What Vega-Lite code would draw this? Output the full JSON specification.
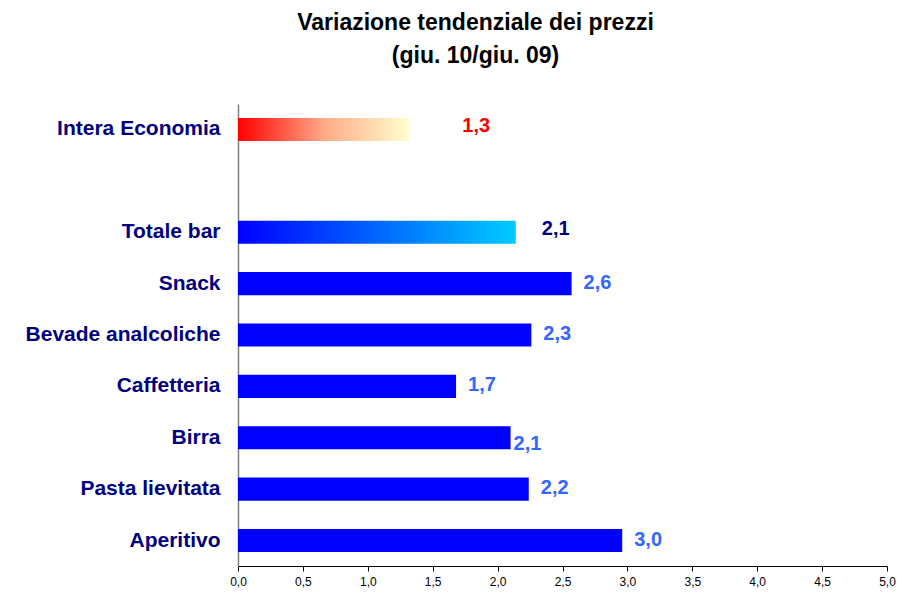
{
  "$schema": "https://vega.github.io/schema/vega-lite/v6.json",
  "width": 649,
  "height": 462,
  "autosize": "none",
  "padding": {"left": 238, "top": 104, "right": 17, "bottom": 29},
  "background": "white",
  "config": {"view": {"stroke": null}, "font": "Liberation Sans"},
  "title": {
    "text": ["Variazione tendenziale dei prezzi", "(giu. 10/giu. 09)"],
    "fontSize": 23,
    "fontWeight": "bold",
    "font": "Liberation Sans",
    "color": "#000000",
    "anchor": "middle",
    "frame": "group",
    "dx": -87,
    "lineHeight": 33,
    "offset": 36
  },
  "data": {
    "values": [
      {"voce": "Intera Economia", "valore": 1.32, "etichetta": "1,3", "gruppo": "economia"},
      {"voce": "Totale bar", "valore": 2.14, "etichetta": "2,1", "gruppo": "totale"},
      {"voce": "Snack", "valore": 2.57, "etichetta": "2,6", "gruppo": "voce"},
      {"voce": "Bevade analcoliche", "valore": 2.26, "etichetta": "2,3", "gruppo": "voce"},
      {"voce": "Caffetteria", "valore": 1.68, "etichetta": "1,7", "gruppo": "voce"},
      {"voce": "Birra", "valore": 2.1, "etichetta": "2,1", "gruppo": "voce"},
      {"voce": "Pasta lievitata", "valore": 2.24, "etichetta": "2,2", "gruppo": "voce"},
      {"voce": "Aperitivo", "valore": 2.96, "etichetta": "3,0", "gruppo": "voce"}
    ]
  },
  "encoding": {
    "y": {
      "field": "voce",
      "type": "nominal",
      "scale": {
        "domain": ["Intera Economia", " ", "Totale bar", "Snack", "Bevade analcoliche", "Caffetteria", "Birra", "Pasta lievitata", "Aperitivo"],
        "paddingInner": 0.55,
        "paddingOuter": 0.27
      },
      "axis": {
        "title": null,
        "ticks": false,
        "domainColor": "#808080",
        "domainWidth": 1.5,
        "labelFont": "Liberation Sans",
        "labelFontSize": 21,
        "labelFontWeight": "bold",
        "labelColor": "#000080",
        "labelPadding": 18,
        "labelLimit": 300
      }
    },
    "x": {
      "field": "valore",
      "type": "quantitative",
      "scale": {"domain": [0, 5], "nice": false},
      "axis": {
        "title": null,
        "values": [0, 0.5, 1, 1.5, 2, 2.5, 3, 3.5, 4, 4.5, 5],
        "labelExpr": "replace(format(datum.value, '.1f'), '.', ',')",
        "grid": false,
        "domainColor": "#000000",
        "tickColor": "#000000",
        "tickSize": 5,
        "labelFontSize": 12,
        "labelColor": "#000000",
        "labelPadding": 5,
        "labelFlush": false
      }
    }
  },
  "layer": [
    {
      "transform": [{"filter": "datum.gruppo == 'economia'"}],
      "mark": {
        "type": "bar",
        "color": {
          "gradient": "linear",
          "x1": 0, "x2": 1, "y1": 0, "y2": 0,
          "stops": [
            {"offset": 0, "color": "#FF0000"},
            {"offset": 0.5, "color": "#FFAA88"},
            {"offset": 1, "color": "#FFFFCC"}
          ]
        }
      }
    },
    {
      "transform": [{"filter": "datum.gruppo == 'totale'"}],
      "mark": {
        "type": "bar",
        "color": {
          "gradient": "linear",
          "x1": 0, "x2": 1, "y1": 0, "y2": 0,
          "stops": [
            {"offset": 0, "color": "#0000FF"},
            {"offset": 1, "color": "#00CCFF"}
          ]
        }
      }
    },
    {
      "transform": [{"filter": "datum.gruppo == 'voce'"}],
      "mark": {"type": "bar", "color": "#0000FF"}
    },
    {
      "transform": [{"filter": "datum.gruppo == 'economia'"}],
      "mark": {"type": "text", "align": "left", "dx": 53, "dy": -3, "fontSize": 20, "fontWeight": "bold", "color": "#FF0000"},
      "encoding": {"text": {"field": "etichetta"}}
    },
    {
      "transform": [{"filter": "datum.gruppo == 'totale'"}],
      "mark": {"type": "text", "align": "left", "dx": 26, "dy": -3, "fontSize": 20, "fontWeight": "bold", "color": "#000080"},
      "encoding": {"text": {"field": "etichetta"}}
    },
    {
      "transform": [{"filter": "datum.gruppo == 'voce' && datum.voce != 'Birra'"}],
      "mark": {"type": "text", "align": "left", "dx": 12, "dy": -1, "fontSize": 20, "fontWeight": "bold", "color": "#3366FF"},
      "encoding": {"text": {"field": "etichetta"}}
    },
    {
      "transform": [{"filter": "datum.voce == 'Birra'"}],
      "mark": {"type": "text", "align": "left", "dx": 3, "dy": 6, "fontSize": 20, "fontWeight": "bold", "color": "#3366FF"},
      "encoding": {"text": {"field": "etichetta"}}
    }
  ]
}
